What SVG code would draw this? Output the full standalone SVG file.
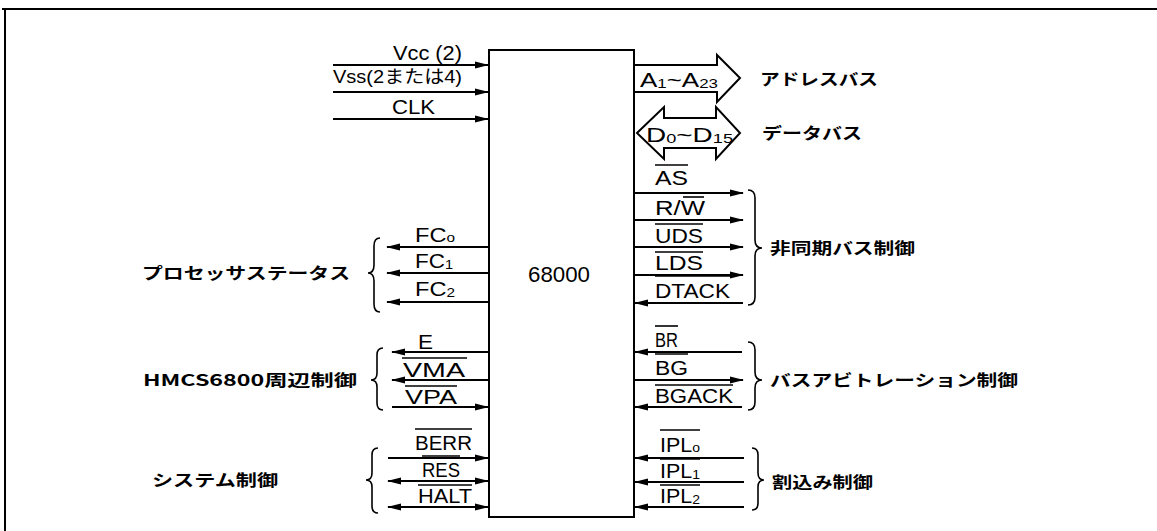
<svg xmlns="http://www.w3.org/2000/svg" width="1157" height="531" viewBox="0 0 1157 531">
<defs>
<marker id="ah" markerUnits="userSpaceOnUse" markerWidth="14" markerHeight="8" refX="13" refY="4" orient="auto-start-reverse">
<path d="M0,0.5 L14,4 L0,7.5 z" fill="#000"/>
</marker>
</defs>
<style>
.ln{stroke:#000;stroke-width:2;fill:none}
.sig{stroke:#000;stroke-width:2.2;fill:none}
.ob{stroke:#000;stroke-width:1.6}
.br{stroke:#000;stroke-width:1.6;fill:none}
.t{font-family:"Liberation Sans","Noto Sans CJK JP",sans-serif;font-size:20px;fill:#000}
.s{font-size:13px}
.j{font-family:"Noto Sans CJK JP",sans-serif;font-size:16px;font-weight:bold;fill:#000}
.chip{font-family:"Liberation Sans",sans-serif;font-size:22px;fill:#000}
</style>
<rect width="1157" height="531" fill="#fff"/>
<g id="frame">
<path class="ln" d="M2,9 H1157 M5,9 V531"/>
</g>
<g id="cpu">
<rect x="489" y="50" width="145" height="467" class="ln" fill="#fff"/>
<text class="chip" x="559" y="282" text-anchor="middle" textLength="62" lengthAdjust="spacingAndGlyphs">68000</text>
</g>
<g id="connectors">
<line class="sig" x1="333" y1="65" x2="488" y2="65" marker-end="url(#ah)"/>
<line class="sig" x1="333" y1="92" x2="488" y2="92" marker-end="url(#ah)"/>
<line class="sig" x1="333" y1="119" x2="488" y2="119" marker-end="url(#ah)"/>
<line class="sig" x1="489" y1="247" x2="387" y2="247" marker-end="url(#ah)"/>
<line class="sig" x1="489" y1="273" x2="387" y2="273" marker-end="url(#ah)"/>
<line class="sig" x1="489" y1="302" x2="387" y2="302" marker-end="url(#ah)"/>
<line class="sig" x1="489" y1="352" x2="392" y2="352" marker-end="url(#ah)"/>
<line class="sig" x1="489" y1="380" x2="392" y2="380" marker-end="url(#ah)"/>
<line class="sig" x1="392" y1="407" x2="488" y2="407" marker-end="url(#ah)"/>
<line class="sig" x1="388" y1="458" x2="488" y2="458" marker-end="url(#ah)"/>
<line class="sig" x1="388" y1="481" x2="488" y2="481" marker-start="url(#ah)" marker-end="url(#ah)"/>
<line class="sig" x1="388" y1="507" x2="488" y2="507" marker-start="url(#ah)" marker-end="url(#ah)"/>
<path class="ln" fill="#fff" d="M634,65 H717 V55 L740,78 L717,102 V92 H634"/>
<path class="ln" fill="#fff" d="M637,133 L664,107 V118 H716 V107 L740,133 L716,159 V148 H664 V159 Z"/>
<line class="sig" x1="635" y1="193" x2="743" y2="193" marker-end="url(#ah)"/>
<line class="sig" x1="635" y1="220" x2="743" y2="220" marker-end="url(#ah)"/>
<line class="sig" x1="635" y1="247" x2="743" y2="247" marker-end="url(#ah)"/>
<line class="sig" x1="635" y1="275" x2="743" y2="275" marker-end="url(#ah)"/>
<line class="sig" x1="743" y1="303" x2="635" y2="303" marker-end="url(#ah)"/>
<line class="sig" x1="742" y1="352" x2="635" y2="352" marker-end="url(#ah)"/>
<line class="sig" x1="635" y1="380" x2="743" y2="380" marker-end="url(#ah)"/>
<line class="sig" x1="742" y1="407" x2="635" y2="407" marker-end="url(#ah)"/>
<line class="sig" x1="744" y1="458" x2="635" y2="458" marker-end="url(#ah)"/>
<line class="sig" x1="744" y1="482" x2="635" y2="482" marker-end="url(#ah)"/>
<line class="sig" x1="744" y1="507" x2="635" y2="507" marker-end="url(#ah)"/>
</g>
<g id="braces">
<path class="br" d="M380,238 Q374,238 374,246 V265 Q374,273 368,273 Q374,273 374,281 V304 Q374,312 380,312"/>
<path class="br" d="M383,348 Q377,348 377,355 V373 Q377,380 371,380 Q377,380 377,387 V403 Q377,410 383,410"/>
<path class="br" d="M378,448 Q372,448 372,455 V473 Q372,480 366,480 Q372,480 372,487 V506 Q372,513 378,513"/>
<path class="br" d="M748,190 Q755,190 755,198 V240 Q755,248 762,248 Q755,248 755,256 V297 Q755,305 748,305"/>
<path class="br" d="M748,342 Q755,342 755,350 V372 Q755,380 762,380 Q755,380 755,388 V402 Q755,410 748,410"/>
<path class="br" d="M752,448 Q758,448 758,455 V473 Q758,480 764,480 Q758,480 758,487 V503 Q758,510 752,510"/>
</g>
<g id="labels-left">
<text class="t" x="393" y="60" textLength="69" lengthAdjust="spacingAndGlyphs">Vcc (2)</text>
<text class="t" x="333" y="83" textLength="129" lengthAdjust="spacingAndGlyphs" style="font-size:18px">Vss(2または4)</text>
<text class="t" x="392" y="114" textLength="43" lengthAdjust="spacingAndGlyphs">CLK</text>
<text class="t" x="415" y="242" textLength="40" lengthAdjust="spacingAndGlyphs">FC<tspan class="s" dy="0">o</tspan></text>
<text class="t" x="415" y="268" textLength="38" lengthAdjust="spacingAndGlyphs">FC<tspan class="s" dy="1">1</tspan></text>
<text class="t" x="415" y="296" textLength="40" lengthAdjust="spacingAndGlyphs">FC<tspan class="s" dy="1">2</tspan></text>
<text class="t" x="418" y="349" textLength="15" lengthAdjust="spacingAndGlyphs">E</text>
<text class="t" x="403" y="377" textLength="62" lengthAdjust="spacingAndGlyphs">VMA</text>
<line class="ob" x1="402" y1="358" x2="467" y2="358"/>
<text class="t" x="405" y="404" textLength="52" lengthAdjust="spacingAndGlyphs">VPA</text>
<line class="ob" x1="405" y1="386" x2="457" y2="386"/>
<text class="t" x="415" y="450" textLength="57" lengthAdjust="spacingAndGlyphs">BERR</text>
<line class="ob" x1="415" y1="429" x2="472" y2="429"/>
<text class="t" x="422" y="477" textLength="38" lengthAdjust="spacingAndGlyphs">RES</text>
<line class="ob" x1="422" y1="456" x2="460" y2="456"/>
<text class="t" x="418" y="503" textLength="54" lengthAdjust="spacingAndGlyphs">HALT</text>
<line class="ob" x1="418" y1="485" x2="472" y2="485"/>
<text class="j" x="142" y="279" textLength="208" lengthAdjust="spacingAndGlyphs">プロセッサステータス</text>
<text class="j" x="143" y="386" textLength="214" lengthAdjust="spacingAndGlyphs">HMCS6800周辺制御</text>
<text class="j" x="152" y="486" textLength="126" lengthAdjust="spacingAndGlyphs">システム制御</text>
</g>
<g id="labels-right">
<text class="t" x="640" y="87" textLength="78" lengthAdjust="spacingAndGlyphs">A<tspan class="s" dy="1">1</tspan><tspan dy="-1">~A</tspan><tspan class="s" dy="1">23</tspan></text>
<text class="t" x="646" y="142" textLength="87" lengthAdjust="spacingAndGlyphs">D<tspan class="s" dy="1">0</tspan><tspan dy="-1">~D</tspan><tspan class="s" dy="1">15</tspan></text>
<text class="t" x="655" y="185" textLength="33" lengthAdjust="spacingAndGlyphs">AS</text>
<line class="ob" x1="655" y1="165" x2="688" y2="165"/>
<text class="t" x="655" y="215" textLength="50" lengthAdjust="spacingAndGlyphs">R/W</text>
<line class="ob" x1="683" y1="197" x2="704" y2="197"/>
<text class="t" x="655" y="243" textLength="48" lengthAdjust="spacingAndGlyphs">UDS</text>
<line class="ob" x1="655" y1="224" x2="703" y2="224"/>
<text class="t" x="655" y="270" textLength="48" lengthAdjust="spacingAndGlyphs">LDS</text>
<line class="ob" x1="655" y1="252" x2="703" y2="252"/>
<text class="t" x="655" y="298" textLength="75" lengthAdjust="spacingAndGlyphs">DTACK</text>
<line class="ob" x1="655" y1="276" x2="730" y2="276"/>
<text class="t" x="655" y="347" textLength="23" lengthAdjust="spacingAndGlyphs">BR</text>
<line class="ob" x1="655" y1="326" x2="678" y2="326"/>
<text class="t" x="655" y="375" textLength="33" lengthAdjust="spacingAndGlyphs">BG</text>
<line class="ob" x1="655" y1="354" x2="688" y2="354"/>
<text class="t" x="655" y="403" textLength="78" lengthAdjust="spacingAndGlyphs">BGACK</text>
<line class="ob" x1="655" y1="385" x2="733" y2="385"/>
<text class="t" x="660" y="452" textLength="40" lengthAdjust="spacingAndGlyphs">IPL<tspan class="s">o</tspan></text>
<line class="ob" x1="660" y1="430" x2="700" y2="430"/>
<text class="t" x="660" y="478" textLength="40" lengthAdjust="spacingAndGlyphs">IPL<tspan class="s" dy="1">1</tspan></text>
<line class="ob" x1="660" y1="459" x2="700" y2="459"/>
<text class="t" x="660" y="503" textLength="40" lengthAdjust="spacingAndGlyphs">IPL<tspan class="s" dy="1">2</tspan></text>
<line class="ob" x1="660" y1="485" x2="700" y2="485"/>
<text class="j" x="760" y="85" textLength="118" lengthAdjust="spacingAndGlyphs">アドレスバス</text>
<text class="j" x="762" y="139" textLength="100" lengthAdjust="spacingAndGlyphs">データバス</text>
<text class="j" x="770" y="254" textLength="145" lengthAdjust="spacingAndGlyphs">非同期バス制御</text>
<text class="j" x="770" y="386" textLength="248" lengthAdjust="spacingAndGlyphs">バスアビトレーション制御</text>
<text class="j" x="772" y="488" textLength="101" lengthAdjust="spacingAndGlyphs">割込み制御</text>
</g>
</svg>
